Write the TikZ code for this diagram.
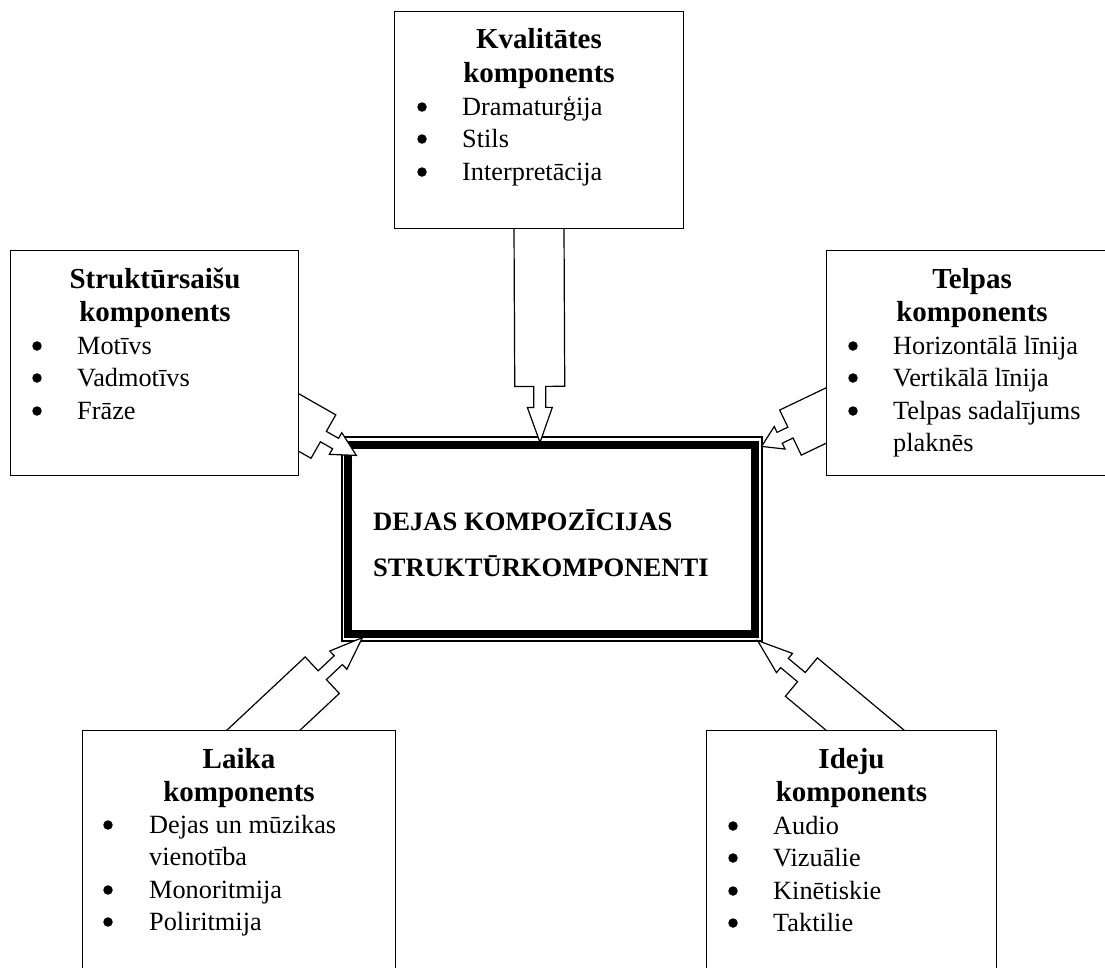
\documentclass[tikz,border=0pt]{standalone}
\usepackage{fontspec}
\setmainfont{Liberation Serif}
\usetikzlibrary{calc}

\tikzset{
  compbox/.style={draw, line width=1.2pt, fill=white, inner sep=0pt},
  head/.style={font=\fontsize{29}{33}\selectfont\bfseries, anchor=base, inner sep=0pt},
  item/.style={font=\fontsize{26.3}{32}\selectfont, anchor=base west, inner sep=0pt},
  dot/.style={circle, fill=black, inner sep=0pt, minimum size=9.5pt},
  title/.style={font=\fontsize{26.6}{32}\selectfont\bfseries, anchor=base west, inner sep=0pt},
  arrowbody/.style={draw, fill=white, line width=1.2pt, line join=miter},
}

% notched block arrow: #1 tail, #2 tip, #3 distance of the notch from the tip,
% #4 distance of the head base from the tip
\newcommand\comparrow[4]{%
  \draw[arrowbody]
    ($(#1)!-40pt!(#2)!25pt!90:(#2)$) --
    ($(#2)!#3!(#1)!25pt!90:(#2)$) --
    ($(#2)!#3!(#1)!6pt!90:(#2)$) --
    ($(#2)!#4!(#1)!6pt!90:(#2)$) --
    ($(#2)!#4!(#1)!12.5pt!90:(#2)$) --
    (#2) --
    ($(#2)!#4!(#1)!12.5pt!-90:(#2)$) --
    ($(#2)!#4!(#1)!6pt!-90:(#2)$) --
    ($(#2)!#3!(#1)!6pt!-90:(#2)$) --
    ($(#2)!#3!(#1)!25pt!-90:(#2)$) --
    ($(#1)!-40pt!(#2)!25pt!-90:(#2)$) -- cycle;}

% bullet of a list line (#2,#3 = baseline of the text line)
\newcommand\bul[3]{\node[dot] (#1) at (#2,#3-8) {};}

\begin{document}
\begin{tikzpicture}[x=1pt,y=-1pt]
\useasboundingbox (0,0) rectangle (1105,967);
\clip (0,0) rectangle (1105,967);

% central block with thin-thick frame
\node[compbox, minimum width=420pt, minimum height=204pt] (C) at (552,539) {};
\draw[line width=8pt] ($(C.north west)+(7,9)$) rectangle ($(C.south east)+(-8,-8)$);

% component boxes (placed first so the arrows can use their anchors)
\path
  node[minimum width=288pt, minimum height=216pt, inner sep=0pt] (Q) at (539,120) {}
  node[minimum width=287pt, minimum height=224pt, inner sep=0pt] (S) at (154.5,363) {}
  node[minimum width=290pt, minimum height=224pt, inner sep=0pt] (T) at (972,363) {}
  node[minimum width=312pt, minimum height=279pt, inner sep=0pt] (L) at (239,870.5) {}
  node[minimum width=289pt, minimum height=279pt, inner sep=0pt] (I) at (851.5,870.5) {};

% arrow ends
\coordinate (tailQ) at (Q.south);
\coordinate (tipQ)  at ($(C.north)+(-12,6)$);
\coordinate (tailS) at ($(S.south east)+(0,-53)$);
\coordinate (tipS)  at ($(C.north west)+(15,19)$);
\coordinate (tailT) at ($(T.south west)+(0,-60)$);
\coordinate (tipT)  at ($(C.north east)+(-1,10)$);
\coordinate (tailL) at ($(L.north west)+(180,0)$);
\coordinate (tipL)  at ($(C.south west)+(21,-4)$);
\coordinate (tailI) at ($(I.north west)+(159,0)$);
\coordinate (tipI)  at ($(C.south east)+(-5,-1)$);

\comparrow{tailQ}{tipQ}{56pt}{35pt}
\comparrow{tailS}{tipS}{38pt}{24pt}
\comparrow{tailT}{tipT}{32pt}{20pt}
\comparrow{tailL}{tipL}{55pt}{33pt}
\comparrow{tailI}{tipI}{57pt}{35pt}

% box outlines drawn over the arrow tails
\draw[compbox] (Q.north west) rectangle (Q.south east);
\draw[compbox] (S.north west) rectangle (S.south east);
\draw[compbox] (T.north west) rectangle (T.south east);
\draw[compbox] (L.north west) rectangle (L.south east);
\draw[compbox] (I.north west) rectangle (I.south east);

% central title
\node[title] (c1) at (373,530) {DEJAS KOMPOZĪCIJAS};
\node[title] (c2) at (373,576) {STRUKTŪRKOMPONENTI};

% quality component
\node[head] (q1) at (539,48) {Kvalitātes};
\node[head] (q2) at (539,82) {komponents};
\bul{qb1}{422}{115} \node[item] (qi1) at (462,115) {Dramaturģija};
\bul{qb2}{422}{147} \node[item] (qi2) at (462,147) {Stils};
\bul{qb3}{422}{180} \node[item] (qi3) at (462,180) {Interpretācija};

% structural links component
\node[head] (s1) at (155,288) {Struktūrsaišu};
\node[head] (s2) at (155,321) {komponents};
\bul{sb1}{37}{354} \node[item] (si1) at (77,354) {Motīvs};
\bul{sb2}{37}{386} \node[item] (si2) at (77,386) {Vadmotīvs};
\bul{sb3}{37}{419} \node[item] (si3) at (77,419) {Frāze};

% space component
\node[head] (t1) at (972,288) {Telpas};
\node[head] (t2) at (972,321) {komponents};
\bul{tb1}{853}{354} \node[item] (ti1) at (893,354) {Horizontālā līnija};
\bul{tb2}{853}{386} \node[item] (ti2) at (893,386) {Vertikālā līnija};
\bul{tb3}{853}{419} \node[item] (ti3) at (893,419) {Telpas sadalījums};
\node[item] (ti4) at (893,451) {plaknēs};

% time component
\node[head] (l1) at (239,768) {Laika};
\node[head] (l2) at (239,801) {komponents};
\bul{lb1}{108}{833} \node[item] (li1) at (149,833) {Dejas un mūzikas};
\node[item] (li2) at (149,865) {vienotība};
\bul{lb2}{108}{898} \node[item] (li3) at (149,898) {Monoritmija};
\bul{lb3}{108}{930} \node[item] (li4) at (149,930) {Poliritmija};

% idea component
\node[head] (i1) at (851.5,768) {Ideju};
\node[head] (i2) at (851.5,801) {komponents};
\bul{ib1}{733}{834} \node[item] (ii1) at (773,834) {Audio};
\bul{ib2}{733}{866} \node[item] (ii2) at (773,866) {Vizuālie};
\bul{ib3}{733}{899} \node[item] (ii3) at (773,899) {Kinētiskie};
\bul{ib4}{733}{931} \node[item] (ii4) at (773,931) {Taktilie};
\end{tikzpicture}
\end{document}
